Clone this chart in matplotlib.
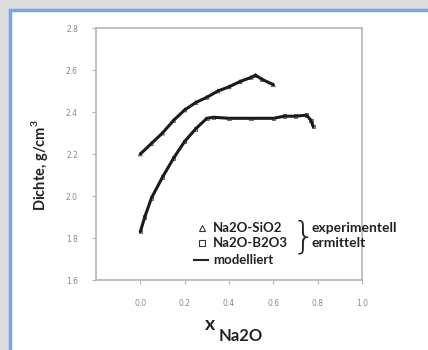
import matplotlib.pyplot as plt
from matplotlib.patches import Rectangle
from matplotlib.lines import Line2D

# Na2O-SiO2 (upper curve)
x_si = [0.0, 0.05, 0.1, 0.15, 0.2, 0.25, 0.3, 0.35, 0.4, 0.45, 0.5, 0.52, 0.55, 0.6]
y_si = [2.20, 2.25, 2.30, 2.36, 2.41, 2.445, 2.47, 2.50, 2.52, 2.545, 2.565, 2.575, 2.555, 2.53]

# Na2O-B2O3 (lower curve)
x_b = [0.0, 0.02, 0.05, 0.1, 0.15, 0.2, 0.25, 0.3, 0.33, 0.4, 0.5, 0.6, 0.65, 0.7, 0.75, 0.77, 0.78]
y_b = [1.83, 1.90, 1.99, 2.09, 2.18, 2.26, 2.32, 2.37, 2.375, 2.37, 2.37, 2.37, 2.38, 2.38, 2.385, 2.36, 2.33]

x_ticks = [0.0, 0.2, 0.4, 0.6, 0.8, 1.0]
y_ticks = [1.6, 1.8, 2.0, 2.2, 2.4, 2.6, 2.8]

W, H = 428, 350
fig = plt.figure(figsize=(W / 100, H / 100), dpi=100)
fig.patch.set_facecolor('#dcdcdc')

# white panel with blue frame
panel = Rectangle((10 / W, -0.05), 1.1, (H - 10) / H + 0.05, transform=fig.transFigure,
                  facecolor='white', edgecolor='#7ea6dc', linewidth=2.5, zorder=0)
fig.add_artist(panel)

ax = fig.add_axes([96 / W, 70 / H, 266 / W, 252 / H])
ax.set_facecolor('white')

ax.plot(x_si, y_si, color='#1a1a1a', lw=2.2, solid_capstyle='round')
ax.plot(x_b, y_b, color='#1a1a1a', lw=2.2, solid_capstyle='round')
ax.scatter(x_si, y_si, marker='^', s=8, facecolors='none', edgecolors='#555', lw=0.6)
ax.scatter(x_b, y_b, marker='s', s=6, facecolors='none', edgecolors='#555', lw=0.6)

ax.set_xlim(-0.2, 1.0)
ax.set_ylim(1.6, 2.8)
ax.set_xticks(x_ticks)
ax.set_yticks(y_ticks)
ax.set_xticklabels(['%.1f' % v for v in x_ticks])
ax.set_yticklabels(['%.1f' % v for v in y_ticks])
for s in ax.spines.values():
    s.set_color('#b5b5b5')
    s.set_linewidth(1.2)
ax.tick_params(colors='#b5b5b5', labelcolor='#8a8a8a', labelsize=5.5, length=3)
ax.tick_params(axis='x', pad=11)
ax.tick_params(axis='y', pad=10)

fig.text(40 / W, 1 - 165 / H, 'Dichte, g/cm$^{\\mathregular{3}}$', rotation=90, ha='center',
         va='center', fontsize=10.5, fontweight='bold', family='Lato', color='#222')
fig.text(205 / W, 1 - 324 / H, 'x', ha='left', va='center', fontsize=14, family='Lato',
         fontweight='bold', color='#222')
fig.text(219 / W, 1 - 336 / H, 'Na2O', ha='left', va='center', fontsize=12, family='Lato',
         fontweight='bold', color='#222')

# legend
fig.add_artist(Line2D([202 / W], [1 - 228 / H], marker='^', markersize=4, color='#333',
                      markerfacecolor='none', markeredgewidth=0.8, transform=fig.transFigure))
fig.add_artist(Line2D([202 / W], [1 - 243 / H], marker='s', markersize=4, color='#333',
                      markerfacecolor='none', markeredgewidth=0.8, transform=fig.transFigure))
fig.add_artist(Line2D([194 / W, 208 / W], [1 - 260 / H] * 2, color='#222', lw=1.5,
                      transform=fig.transFigure))
for txt, yp in [('Na2O-SiO2', 228), ('Na2O-B2O3', 243), ('modelliert', 260)]:
    fig.text(213 / W, 1 - yp / H, txt, ha='left', va='center', fontsize=9.5,
             family='Lato', fontweight='bold', color='#222')
fig.text(304 / W, 1 - 237 / H, '}', ha='center', va='center', fontsize=27,
         family='DejaVu Sans', fontweight='light', color='#222')
for txt, yp in [('experimentell', 228), ('ermittelt', 243)]:
    fig.text(311 / W, 1 - yp / H, txt, ha='left', va='center', fontsize=10,
             family='Lato', fontweight='bold', color='#222')

plt.savefig('out.png', dpi=100, facecolor=fig.get_facecolor())
